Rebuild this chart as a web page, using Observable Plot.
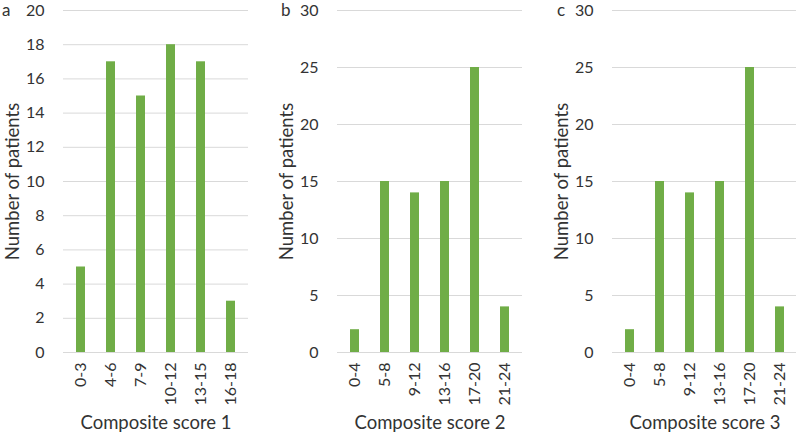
<!DOCTYPE html>
<html>
<head>
<meta charset="utf-8">
<script src="https://cdn.jsdelivr.net/npm/d3@7"></script>
<script src="https://cdn.jsdelivr.net/npm/@observablehq/plot@0.6"></script>
<style>
  html, body { margin: 0; padding: 0; background: #fff; }
  #wrap { position: relative; width: 796px; height: 434px; overflow: hidden; font-family: Lato, "Open Sans", sans-serif; color: #333; }
  .panel { position: absolute; top: 0; }
  .letter { position: absolute; top: 1px; font-size: 17px; line-height: 18px; color: #333; font-family: Lato, sans-serif; }
</style>
</head>
<body>
<div id="wrap"></div>
<script>
const catsA = ["0-3", "4-6", "7-9", "10-12", "13-15", "16-18"];
const valsA = [5, 17, 15, 18, 17, 3];
const catsB = ["0-4", "5-8", "9-12", "13-16", "17-20", "21-24"];
const valsB = [2, 15, 14, 15, 25, 4];
const catsC = ["0-4", "5-8", "9-12", "13-16", "17-20", "21-24"];
const valsC = [2, 15, 14, 15, 25, 4];
const ticksA = [0, 2, 4, 6, 8, 10, 12, 14, 16, 18, 20];
const ticksBC = [0, 5, 10, 15, 20, 25, 30];
const titles = ["Composite score 1", "Composite score 2", "Composite score 3"];
const letters = ["a", "b", "c"];
const yLabel = "Number of patients";

const panels = [
  {cats: catsA, vals: valsA, ticks: ticksA, max: 20, left: 0, letterX: 2},
  {cats: catsB, vals: valsB, ticks: ticksBC, max: 30, left: 274, letterX: 281},
  {cats: catsC, vals: valsC, ticks: ticksBC, max: 30, left: 549, letterX: 557}
];

const wrap = document.getElementById("wrap");
panels.forEach((p, i) => {
  const data = p.cats.map((c, j) => ({cat: c, n: p.vals[j]}));
  const chart = Plot.plot({
    width: 248,
    height: 434,
    marginLeft: 63,
    marginRight: 0,
    marginTop: 10,
    marginBottom: 82,
    style: {fontFamily: "Lato, 'Open Sans', sans-serif", fontSize: "16px", color: "#333", background: "transparent", overflow: "visible"},
    x: {domain: p.cats, paddingInner: 0.69, paddingOuter: 0.345, label: null},
    y: {domain: [0, p.max], label: null},
    marks: [
      Plot.ruleY(p.ticks, {stroke: "#d9d9d9", strokeWidth: 1}),
      Plot.barY(data, {x: "cat", y: "n", fill: "#70ad47"}),
      Plot.axisY({ticks: p.ticks, tickSize: 0, tickPadding: 19, fontSize: 16, label: yLabel, labelAnchor: "center", labelOffset: 58, labelArrow: "none"}),
      Plot.axisX({tickSize: 0, tickPadding: 10, tickRotate: -90, fontSize: 16, label: titles[i], labelAnchor: "center", labelOffset: 76, labelArrow: "none"})
    ]
  });
  chart.classList.add("panel");
  chart.style.left = p.left + "px";
  chart.querySelectorAll("[aria-label='y-axis label'] text, [aria-label='x-axis label'] text").forEach(t => t.setAttribute("font-size", "18.5px"));
  wrap.appendChild(chart);
  const l = document.createElement("div");
  l.className = "letter";
  l.style.left = p.letterX + "px";
  l.textContent = letters[i];
  wrap.appendChild(l);
});
</script>
</body>
</html>
